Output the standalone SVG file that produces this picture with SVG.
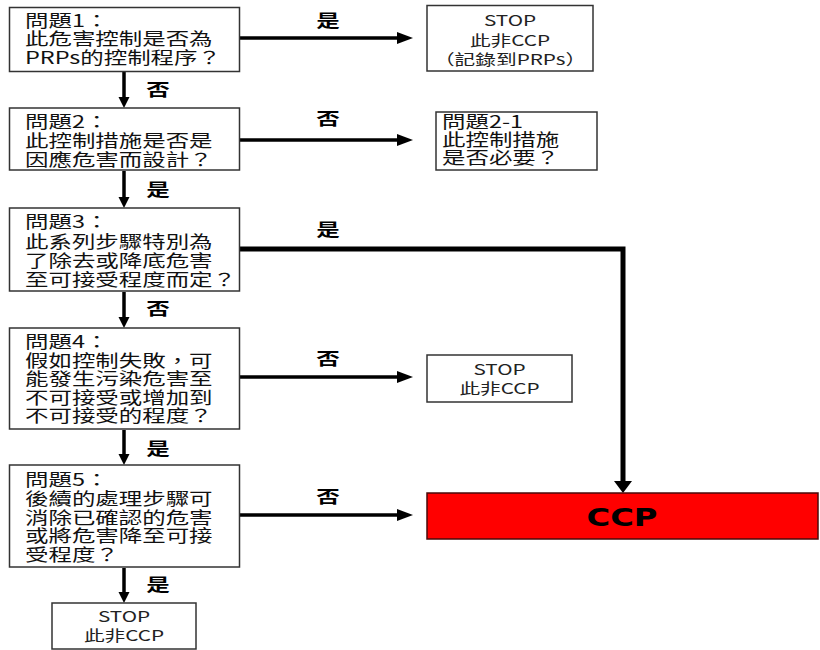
<svg xmlns="http://www.w3.org/2000/svg" width="820" height="650" viewBox="0 0 820 650">
<defs>
<style>
.box{fill:#fff;stroke:#333;stroke-width:1.5}
.t{font-family:"Noto Sans CJK TC","Noto Sans CJK SC",sans-serif;font-size:17px;fill:#111}
.s{font-family:"Noto Sans CJK TC","Noto Sans CJK SC",sans-serif;font-size:15px;fill:#222;text-anchor:middle}
.lb{font-family:"Noto Sans CJK TC","Noto Sans CJK SC",sans-serif;font-size:17px;font-weight:bold;fill:#000;text-anchor:middle}
.ln{fill:none;stroke:#000;stroke-width:3.5}
</style>
<marker id="ah" markerUnits="userSpaceOnUse" markerWidth="18" markerHeight="14" refX="10" refY="7" orient="auto" overflow="visible"><path d="M0,1 L16,7 L0,13 Z" fill="#000"/></marker>
<marker id="av" markerUnits="userSpaceOnUse" markerWidth="12" markerHeight="12" refX="5" refY="6" orient="auto" overflow="visible"><path d="M0,0.5 L11,6 L0,11.5 Z" fill="#000"/></marker>
<marker id="ac" markerUnits="userSpaceOnUse" markerWidth="14" markerHeight="20" refX="6" refY="9" orient="auto" overflow="visible"><path d="M0,0 L12,9 L0,18 Z" fill="#000"/></marker>
</defs>
<rect width="820" height="650" fill="#fff"/>

<g id="connectors">
<line class="ln" x1="240" y1="38" x2="407" y2="38" marker-end="url(#ah)"/>
<line class="ln" x1="240" y1="140" x2="407" y2="140" marker-end="url(#ah)"/>
<line class="ln" x1="240" y1="377" x2="407" y2="377" marker-end="url(#ah)"/>
<line class="ln" x1="240" y1="515" x2="407" y2="515" marker-end="url(#ah)"/>
<path class="ln" d="M240,249 H623 V487" style="stroke-width:5" marker-end="url(#ac)"/>
<line class="ln" x1="124" y1="72" x2="124" y2="102" marker-end="url(#av)"/>
<line class="ln" x1="124" y1="171" x2="124" y2="202" marker-end="url(#av)"/>
<line class="ln" x1="124" y1="292" x2="124" y2="322" marker-end="url(#av)"/>
<line class="ln" x1="124" y1="430" x2="124" y2="459" marker-end="url(#av)"/>
<line class="ln" x1="124" y1="568" x2="124" y2="597" marker-end="url(#av)"/>
<g transform="translate(328 0) scale(1.38 1)"><text class="lb" x="0" y="27">是</text><text class="lb" x="0" y="125">否</text><text class="lb" x="0" y="236">是</text><text class="lb" x="0" y="365">否</text><text class="lb" x="0" y="503">否</text></g>
<g transform="translate(158 0) scale(1.38 1)"><text class="lb" x="0" y="96">否</text><text class="lb" x="0" y="196">是</text><text class="lb" x="0" y="315">否</text><text class="lb" x="0" y="455">是</text><text class="lb" x="0" y="591">是</text></g>
</g>

<g id="q1">
<rect class="box" x="9.5" y="7.5" width="230" height="64"/>
<g transform="translate(25 0) scale(1.38 1)"><text class="t" x="0" y="27">問題1：</text><text class="t" x="0" y="45.5">此危害控制是否為</text><text class="t" x="0" y="64">PRPs的控制程序？</text></g>
</g>
<g id="q2">
<rect class="box" x="9.5" y="108" width="230" height="62"/>
<g transform="translate(25 0) scale(1.38 1)"><text class="t" x="0" y="128">問題2：</text><text class="t" x="0" y="147">此控制措施是否是</text><text class="t" x="0" y="166">因應危害而設計？</text></g>
</g>
<g id="q3">
<rect class="box" x="9.5" y="208" width="230" height="83"/>
<g transform="translate(25 0) scale(1.38 1)"><text class="t" x="0" y="228">問題3：</text><text class="t" x="0" y="248">此系列步驟特別為</text><text class="t" x="0" y="267">了除去或降底危害</text><text class="t" x="0" y="286">至可接受程度而定？</text></g>
</g>
<g id="q4">
<rect class="box" x="9.5" y="328" width="230" height="101"/>
<g transform="translate(25 0) scale(1.38 1)"><text class="t" x="0" y="348">問題4：</text><text class="t" x="0" y="367">假如控制失敗，可</text><text class="t" x="0" y="385">能發生污染危害至</text><text class="t" x="0" y="404">不可接受或增加到</text><text class="t" x="0" y="422">不可接受的程度？</text></g>
</g>
<g id="q5">
<rect class="box" x="9.5" y="465" width="230" height="102"/>
<g transform="translate(25 0) scale(1.38 1)"><text class="t" x="0" y="486">問題5：</text><text class="t" x="0" y="505">後續的處理步驟可</text><text class="t" x="0" y="524">消除已確認的危害</text><text class="t" x="0" y="542">或將危害降至可接</text><text class="t" x="0" y="561">受程度？</text></g>
</g>
<g id="stop1">
<rect class="box" x="427" y="5.5" width="166" height="65.5"/>
<g transform="translate(510 0) scale(1.38 1)"><text class="s" x="0" y="26">STOP</text><text class="s" x="0" y="46">此非CCP</text><text class="s" x="0" y="65">（記錄到PRPs）</text></g>
</g>
<g id="q2-1">
<rect class="box" x="436" y="112" width="161" height="58"/>
<g transform="translate(442 0) scale(1.38 1)"><text class="t" x="0" y="128">問題2-1</text><text class="t" x="0" y="146">此控制措施</text><text class="t" x="0" y="164">是否必要？</text></g>
</g>
<g id="stop2">
<rect class="box" x="427" y="355" width="145" height="47"/>
<g transform="translate(499.5 0) scale(1.38 1)"><text class="s" x="0" y="375">STOP</text><text class="s" x="0" y="394">此非CCP</text></g>
</g>
<g id="ccp">
<rect x="427" y="493" width="391" height="46" fill="#ff0000" stroke="#4a0a0a" stroke-width="1.5"/>
<text x="622" y="526" text-anchor="middle" font-family="DejaVu Sans, sans-serif" font-weight="bold" font-size="25" textLength="71" lengthAdjust="spacingAndGlyphs" fill="#000">CCP</text>
</g>
<g id="stop3">
<rect class="box" x="52" y="603" width="144" height="46"/>
<g transform="translate(124 0) scale(1.38 1)"><text class="s" x="0" y="622">STOP</text><text class="s" x="0" y="641">此非CCP</text></g>
</g>
</svg>
